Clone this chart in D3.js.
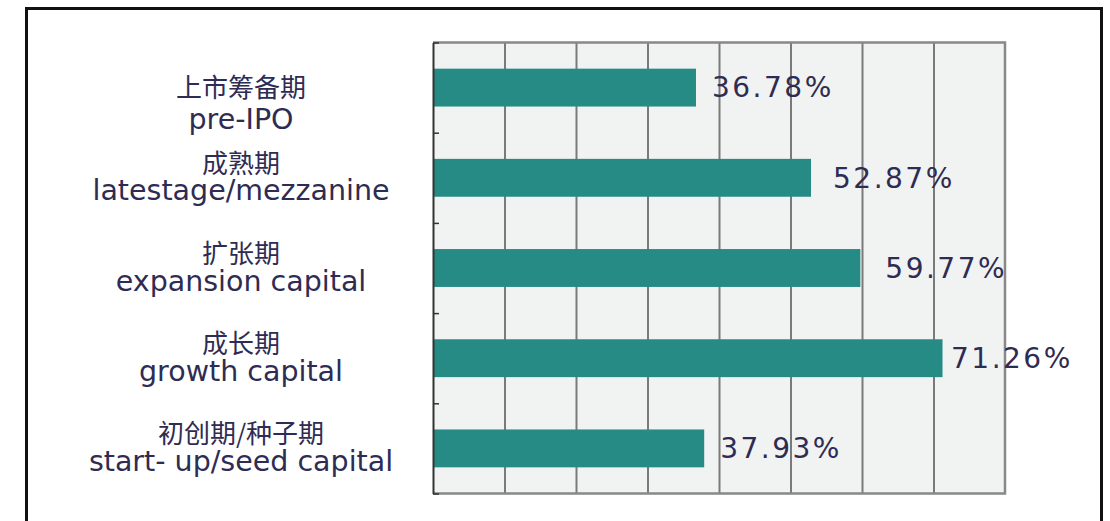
<!DOCTYPE html>
<html lang="zh">
<head>
<meta charset="UTF-8">
<title>Stage share</title>
<script src="https://cdn.jsdelivr.net/npm/d3@7/dist/d3.min.js"></script>
<style>
    body { margin: 0; background: #fff; }
    svg { display: block; }
</style>
</head>
<body>
<script>

    // data
    var stagesCn = ["上市筹备期", "成熟期", "扩张期", "成长期", "初创期/种子期"];
    var stagesEn = ["pre-IPO", "latestage/mezzanine", "expansion capital", "growth capital", "start- up/seed capital"];
    var shares = [36.78, 52.87, 59.77, 71.26, 37.93];
    var gridTicks = [10, 20, 30, 40, 50, 60, 70];

    var width = 1110, height = 521;
    var plot = {left: 433, right: 1005, top: 42.5, bottom: 493.5};
    var textColor = "#2e2c52";
    var barColor = "#268a85";
    // the value labels sit at uneven distances from the bar ends in the original
    var labelGap = [16, 22, 25, 8.5, 16];

    var svg = d3.select("body").append("svg")
        .attr("width", width)
        .attr("height", height);

    // outer frame (bottom edge is cut off)
    svg.append("rect")
        .attr("x", 26.5)
        .attr("y", 8.5)
        .attr("width", 1075)
        .attr("height", 560)
        .attr("fill", "none")
        .attr("stroke", "#111")
        .attr("stroke-width", 3);

    var x = d3.scaleLinear()
        .domain([0, 80])
        .range([plot.left, plot.right]);

    var y = d3.scaleBand()
        .domain(d3.range(stagesCn.length))
        .range([plot.top, plot.bottom])
        .paddingInner(0.58)
        .paddingOuter(0.29);

    // plot background
    svg.append("rect")
        .attr("x", plot.left)
        .attr("y", plot.top)
        .attr("width", plot.right - plot.left)
        .attr("height", plot.bottom - plot.top)
        .attr("fill", "#f1f3f2");

    // vertical grid lines
    var grid = svg.append("g")
        .attr("transform", "translate(0," + plot.bottom + ")")
        .call(d3.axisBottom(x).tickValues(gridTicks).tickSize(-(plot.bottom - plot.top)).tickFormat(""));
    grid.select(".domain").remove();
    grid.selectAll("line")
        .attr("stroke", "#7a7a7a")
        .attr("stroke-width", 2);

    // border of plot: top, right, bottom in gray
    svg.append("path")
        .attr("d", "M" + plot.left + "," + plot.top + "H" + plot.right + "V" + plot.bottom + "H" + plot.left)
        .attr("fill", "none")
        .attr("stroke", "#888")
        .attr("stroke-width", 2.5);

    // bars
    svg.append("g").selectAll("rect")
        .data(shares)
        .join("rect")
        .attr("x", x(0))
        .attr("y", function (d, i) { return y(i); })
        .attr("width", function (d) { return x(d) - x(0); })
        .attr("height", y.bandwidth())
        .attr("fill", barColor);

    // left axis with inward ticks on band edges
    var bandEdges = d3.range(stagesCn.length + 1).map(function (i) {
        return plot.top + i * (plot.bottom - plot.top) / stagesCn.length;
    });
    var yEdge = d3.scaleLinear().domain([plot.top, plot.bottom]).range([plot.top, plot.bottom]);
    var leftAxis = svg.append("g")
        .attr("transform", "translate(" + plot.left + ",0)")
        .call(d3.axisRight(yEdge).tickValues(bandEdges).tickSizeInner(6).tickSizeOuter(0).tickFormat(""));
    leftAxis.select(".domain")
        .attr("stroke", "#333")
        .attr("stroke-width", 2);
    leftAxis.selectAll("line")
        .attr("stroke", "#333")
        .attr("stroke-width", 1.5);

    // value labels
    svg.append("g").selectAll("text")
        .data(shares)
        .join("text")
        .attr("x", function (d, i) { return x(d) + labelGap[i]; })
        .attr("y", function (d, i) { return y(i) + y.bandwidth() / 2; })
        .attr("dy", "0.35em")
        .attr("font-family", "'DejaVu Sans', sans-serif")
        .attr("font-size", "28px")
        .attr("letter-spacing", "2.5px")
        .attr("fill", textColor)
        .text(function (d) { return d.toFixed(2) + "%"; });

    // category labels, two lines in one text
    var labels = svg.append("g").selectAll("text")
        .data(stagesCn)
        .join("text")
        .attr("text-anchor", "middle")
        .attr("fill", textColor)
        .attr("transform", function (d, i) {
            return "translate(241," + (y(i) + y.bandwidth() / 2) + ")";
        });

    labels.append("tspan")
        .attr("x", 0)
        .attr("y", function (d, i) { return i === 0 ? 9 : -5; })
        .attr("font-family", "'Noto Sans CJK SC', sans-serif")
        .attr("font-size", "26px")
        .text(function (d) { return d; });

    labels.append("tspan")
        .attr("x", 0)
        .attr("y", function (d, i) { return i === 0 ? 41 : 22.5; })
        .attr("font-family", "'DejaVu Sans', sans-serif")
        .attr("font-size", "28.5px")
        .text(function (d, i) { return stagesEn[i]; });

</script>
</body>
</html>
